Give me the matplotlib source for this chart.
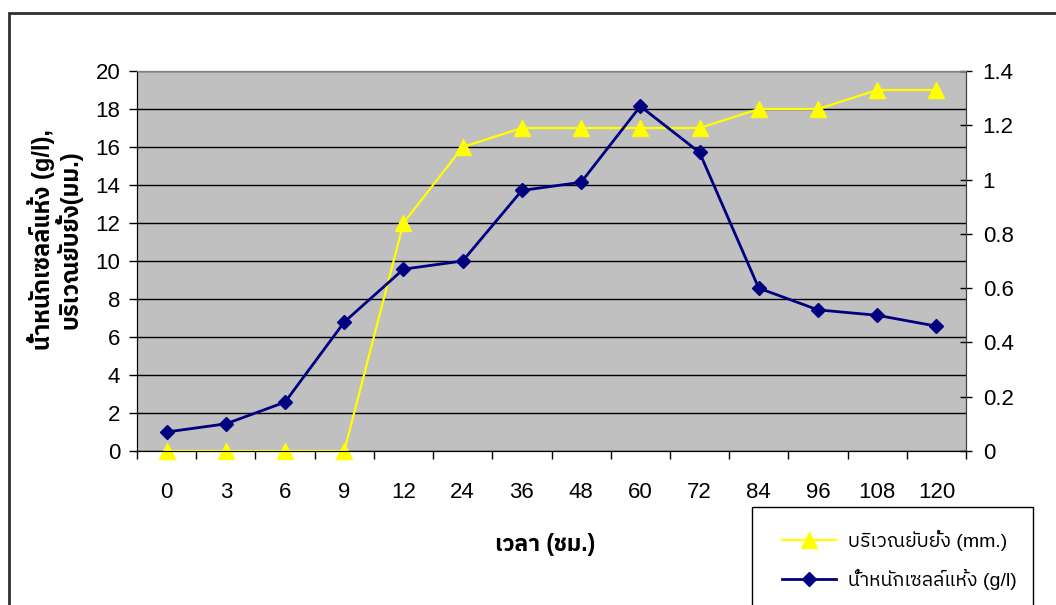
import matplotlib
matplotlib.use("Agg")
import matplotlib.pyplot as plt
from matplotlib import font_manager
from matplotlib.ft2font import FT2Font
from matplotlib.patches import Rectangle

hours = ['0', '3', '6', '9', '12', '24', '36', '48', '60', '72', '84', '96', '108', '120']
inhibition_mm = [0, 0, 0, 0, 12, 16, 17, 17, 17, 17, 18, 18, 19, 19]
dry_weight = [0.07, 0.10, 0.18, 0.475, 0.67, 0.70, 0.96, 0.99, 1.27, 1.10, 0.60, 0.52, 0.50, 0.46]

label_inhib = 'บริเวณยับยั้ง (mm.)'
label_dry = 'น้ำหนักเซลล์แห้ง (g/l)'
ylabel = 'น้ำหนักเซลล์แห้ง (g/l),\nบริเวณยับยั้ง(มม.)'
xlabel = 'เวลา (ชม.)'

# find a font that has thai glyphs
names = set(f.name for f in font_manager.fontManager.ttflist)
thai = 'DejaVu Sans'
cands = sorted(font_manager.fontManager.ttflist, key=lambda f: ('Sans' not in f.name, f.name))
for f in cands:
    try:
        if 0x0E01 in FT2Font(f.fname).get_charmap():
            thai = f.name
            break
    except Exception:
        pass
latin = 'Liberation Sans Narrow' if 'Liberation Sans Narrow' in names else 'Liberation Sans'
plt.rcParams['font.family'] = [latin, thai, 'DejaVu Sans']

fig = plt.figure(figsize=(10.56, 6.05), dpi=100)
W, H = 1056, 605
ax = fig.add_axes([137 / W, 1 - 451 / H, (966 - 137) / W, (451 - 71) / H])
ax2 = ax.twinx()

ax.set_facecolor('#C0C0C0')
x = list(range(len(hours)))
l1, = ax.plot(x, inhibition_mm, color='#FFFF00', linewidth=1.6, marker='^', markersize=11,
              markeredgecolor='#FFFF00', label=label_inhib, clip_on=False, zorder=3)
l2, = ax2.plot(x, dry_weight, color='#000080', linewidth=2, marker='D', markersize=7,
               label=label_dry, clip_on=False, zorder=3)

ax.set_xlim(-0.5, len(hours) - 0.5)
ax.set_ylim(0, 20)
ax2.set_ylim(0, 1.4)
ax.set_yticks(range(0, 21, 2))
ax2.set_yticks([0, 0.2, 0.4, 0.6, 0.8, 1, 1.2, 1.4])
ax2.set_yticklabels(['0', '0.2', '0.4', '0.6', '0.8', '1', '1.2', '1.4'])
ax.yaxis.grid(True, color='black', linewidth=1)
ax.set_axisbelow(True)

ax.set_xticks(x)
ax.set_xticklabels(hours)
ax.set_xticks([i - 0.5 for i in range(len(hours) + 1)], minor=True)
ax.tick_params(axis='x', which='major', length=0, pad=22, labelsize=16)
ax.tick_params(axis='x', which='minor', length=6, width=1, direction='out')
ax.tick_params(axis='y', length=6, width=1, direction='out', pad=6, labelsize=16)
ax2.tick_params(axis='y', length=8, width=1, direction='inout', pad=8, labelsize=16)

for a in (ax, ax2):
    a.spines['top'].set_color('#808080')
    a.spines['left'].set_color('black')
    a.spines['right'].set_color('#404040')
    a.spines['bottom'].set_color('black')

fig.text(55 / W, 1 - 240 / H, ylabel, rotation=90, ha='center', va='center',
         fontsize=17, fontweight='bold', linespacing=1.0)
fig.text(545 / W, 1 - 545 / H, xlabel, ha='center', va='center', fontsize=16.5, fontweight='bold')

# outer chart border, cut off on the right and bottom
fig.patches.append(Rectangle((9 / W, -0.1), 1.2, 1 - 13 / H + 0.1, transform=fig.transFigure,
                             fill=False, edgecolor='#303030', linewidth=2))
# legend box
fig.patches.append(Rectangle((752 / W, -0.1), (1033 - 752) / W, 1 - 507 / H + 0.1,
                             transform=fig.transFigure, fill=False, edgecolor='black', linewidth=1))
fig.legend([l1, l2], [label_inhib, label_dry], loc='upper left',
           bbox_to_anchor=(764 / W, 1 - 512 / H), frameon=False, fontsize=14,
           handlelength=2.8, handletextpad=0.6, labelspacing=0.95)

fig.savefig('out.png', dpi=100)
